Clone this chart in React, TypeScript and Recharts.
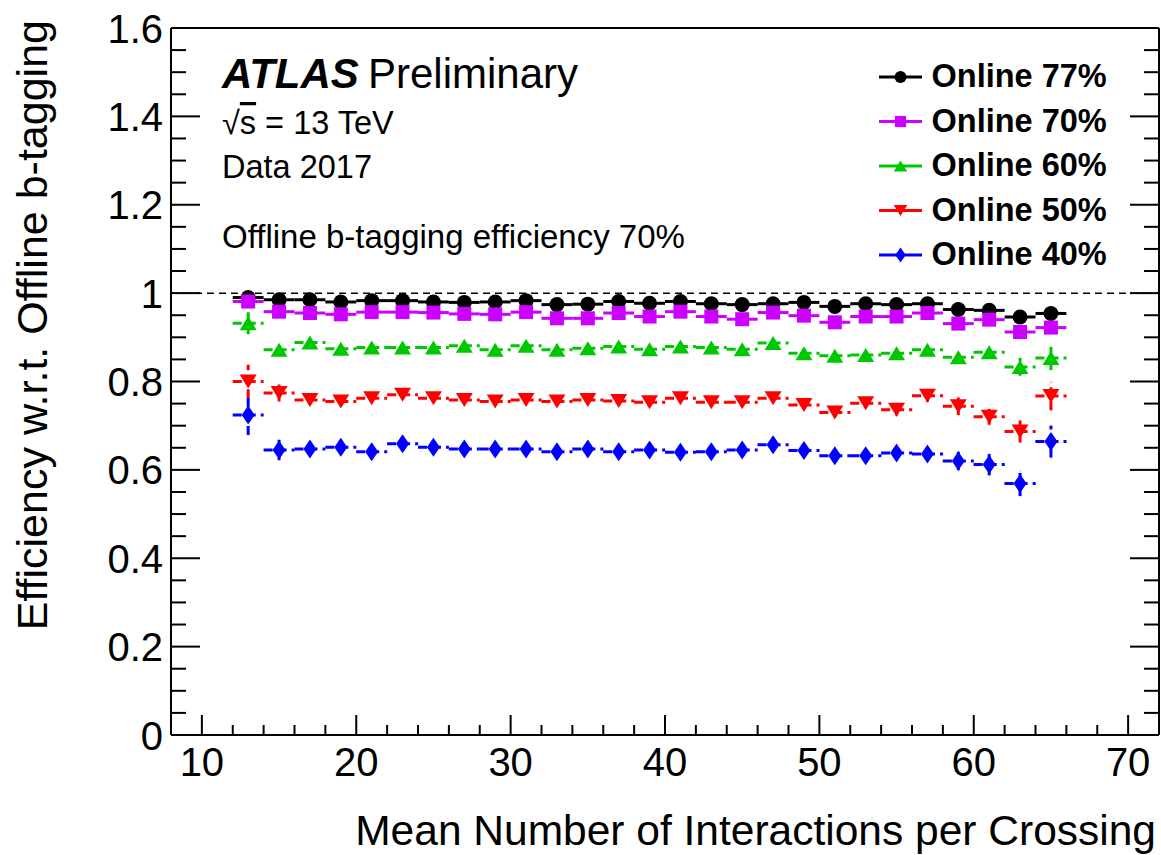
import { ScatterChart, Scatter, XAxis, YAxis, ErrorBar, ReferenceLine, Legend } from "recharts";

// mean number of interactions per crossing (bin centres, bins are 2 wide)
const mu = [13, 15, 17, 19, 21, 23, 25, 27, 29, 31, 33, 35, 37, 39, 41, 43, 45, 47, 49, 51, 53, 55, 57, 59, 61, 63, 65];
const binHalfWidth = 1;

const eff77 = [0.990, 0.985, 0.985, 0.980, 0.983, 0.983, 0.980, 0.979, 0.980, 0.983, 0.974, 0.975, 0.981, 0.977, 0.981, 0.976, 0.974, 0.976, 0.979, 0.970, 0.976, 0.974, 0.976, 0.963, 0.961, 0.946, 0.954];
const err77 = [0.008, 0.005, 0.004, 0.004, 0.004, 0.004, 0.004, 0.004, 0.004, 0.004, 0.004, 0.004, 0.004, 0.004, 0.004, 0.004, 0.004, 0.004, 0.004, 0.005, 0.005, 0.005, 0.006, 0.007, 0.008, 0.010, 0.010];

const eff70 = [0.981, 0.958, 0.955, 0.952, 0.957, 0.957, 0.956, 0.953, 0.952, 0.957, 0.943, 0.943, 0.955, 0.947, 0.958, 0.947, 0.941, 0.956, 0.949, 0.934, 0.947, 0.947, 0.955, 0.931, 0.940, 0.912, 0.922];
const err70 = [0.010, 0.006, 0.005, 0.005, 0.005, 0.005, 0.005, 0.005, 0.005, 0.005, 0.005, 0.005, 0.005, 0.005, 0.005, 0.005, 0.005, 0.005, 0.005, 0.006, 0.006, 0.006, 0.007, 0.010, 0.010, 0.014, 0.014];

const eff60 = [0.932, 0.872, 0.888, 0.874, 0.877, 0.877, 0.877, 0.881, 0.872, 0.881, 0.872, 0.875, 0.879, 0.873, 0.879, 0.877, 0.873, 0.887, 0.864, 0.858, 0.860, 0.864, 0.872, 0.855, 0.866, 0.833, 0.853];
const err60 = [0.025, 0.010, 0.008, 0.007, 0.007, 0.007, 0.007, 0.007, 0.007, 0.007, 0.007, 0.007, 0.007, 0.007, 0.007, 0.007, 0.007, 0.007, 0.008, 0.008, 0.008, 0.009, 0.010, 0.013, 0.013, 0.020, 0.027];

const eff50 = [0.800, 0.774, 0.758, 0.755, 0.762, 0.770, 0.762, 0.758, 0.755, 0.758, 0.755, 0.758, 0.756, 0.753, 0.762, 0.753, 0.753, 0.762, 0.747, 0.730, 0.751, 0.736, 0.768, 0.744, 0.720, 0.687, 0.767];
const err50 = [0.038, 0.019, 0.010, 0.009, 0.009, 0.009, 0.009, 0.009, 0.009, 0.009, 0.009, 0.009, 0.009, 0.009, 0.009, 0.009, 0.009, 0.010, 0.010, 0.011, 0.011, 0.013, 0.014, 0.020, 0.018, 0.025, 0.032];

const eff40 = [0.724, 0.645, 0.647, 0.651, 0.641, 0.659, 0.651, 0.647, 0.647, 0.647, 0.641, 0.647, 0.641, 0.645, 0.640, 0.641, 0.645, 0.657, 0.644, 0.632, 0.632, 0.638, 0.636, 0.620, 0.612, 0.569, 0.664];
const err40 = [0.045, 0.023, 0.012, 0.011, 0.011, 0.011, 0.011, 0.011, 0.011, 0.011, 0.011, 0.011, 0.011, 0.011, 0.011, 0.011, 0.011, 0.012, 0.012, 0.013, 0.013, 0.014, 0.015, 0.021, 0.024, 0.028, 0.036];

const xTicks = [8, 10, 12, 14, 16, 18, 20, 22, 24, 26, 28, 30, 32, 34, 36, 38, 40, 42, 44, 46, 48, 50, 52, 54, 56, 58, 60, 62, 64, 66, 68, 70, 72];
const xLabels = [10, 20, 30, 40, 50, 60, 70];
const yTicks = [0, 0.05, 0.1, 0.15, 0.2, 0.25, 0.3, 0.35, 0.4, 0.45, 0.5, 0.55, 0.6, 0.65, 0.7, 0.75, 0.8, 0.85, 0.9, 0.95, 1, 1.05, 1.1, 1.15, 1.2, 1.25, 1.3, 1.35, 1.4, 1.45, 1.5, 1.55, 1.6];
const yLabels = [0, 0.2, 0.4, 0.6, 0.8, 1, 1.2, 1.4, 1.6];

const series = [
  { name: "Online 77%", values: eff77, errors: err77, color: "#000000", dash: undefined, marker: "circle" },
  { name: "Online 70%", values: eff70, errors: err70, color: "#cc00ff", dash: undefined, marker: "square" },
  { name: "Online 60%", values: eff60, errors: err60, color: "#00c800", dash: "9 5", marker: "up" },
  { name: "Online 50%", values: eff50, errors: err50, color: "#ff0000", dash: "9 5", marker: "down" },
  { name: "Online 40%", values: eff40, errors: err40, color: "#0000ff", dash: "9 5", marker: "diamond" },
];

const FONT = "'Liberation Sans', Arial, Helvetica, sans-serif";

function Marker({ kind, cx, cy, color, s = 1 }: any) {
  if (cx == null || cy == null) return null;
  if (kind === "circle") return <circle cx={cx} cy={cy} r={7.5 * s} fill={color} />;
  if (kind === "square") return <rect x={cx - 7 * s} y={cy - 7 * s} width={14 * s} height={14 * s} fill={color} />;
  if (kind === "up")
    return <polygon points={`${cx},${cy - 7 * s} ${cx - 8.5 * s},${cy + 7 * s} ${cx + 8.5 * s},${cy + 7 * s}`} fill={color} />;
  if (kind === "down")
    return <polygon points={`${cx},${cy + 7 * s} ${cx - 8.5 * s},${cy - 7 * s} ${cx + 8.5 * s},${cy - 7 * s}`} fill={color} />;
  return <polygon points={`${cx},${cy - 9.5 * s} ${cx + 6.5 * s},${cy} ${cx},${cy + 9.5 * s} ${cx - 6.5 * s},${cy}`} fill={color} />;
}

const isLabel = (list: number[], v: number) => list.some((l) => Math.abs(l - v) < 1e-6);

const BottomTick = ({ x, y, payload }: any) => {
  const major = isLabel(xLabels, payload.value);
  return (
    <g>
      <line x1={x} x2={x} y1={y} y2={y - (major ? 20 : 10)} stroke="#000" strokeWidth={2} />
      {major && (
        <text x={x} y={y + 41} textAnchor="middle" fontSize={40} fontFamily={FONT} fill="#000">
          {payload.value}
        </text>
      )}
    </g>
  );
};

const TopTick = ({ x, y, payload }: any) => {
  const major = isLabel(xLabels, payload.value);
  return <line x1={x} x2={x} y1={y} y2={y + (major ? 20 : 10)} stroke="#000" strokeWidth={2} />;
};

const LeftTick = ({ x, y, payload }: any) => {
  const major = isLabel(yLabels, payload.value);
  return (
    <g>
      <line x1={x} x2={x + (major ? 29 : 15)} y1={y} y2={y} stroke="#000" strokeWidth={2} />
      {major && (
        <text x={x - 8} y={y + 14.5} textAnchor="end" fontSize={40} fontFamily={FONT} fill="#000">
          {String(Number(payload.value.toFixed(2)))}
        </text>
      )}
    </g>
  );
};

const RightTick = ({ x, y, payload }: any) => {
  const major = isLabel(yLabels, payload.value);
  return <line x1={x} x2={x - (major ? 29 : 15)} y1={y} y2={y} stroke="#000" strokeWidth={2} />;
};

const renderLegend = () => (
  <svg width={290} height={230} style={{ display: "block" }}>
    {series.map((s, i) => {
      const cy = 27 + 44.5 * i;
      return (
        <g key={s.name}>
          <line x1={19} x2={62} y1={cy} y2={cy} stroke={s.color} strokeWidth={3} />
          <Marker kind={s.marker} cx={40.5} cy={cy} color={s.color} s={0.8} />
          <text x={71.5} y={cy + 10} fontSize={32.5} fontWeight="bold" fontFamily={FONT} fill="#000">
            {s.name}
          </text>
        </g>
      );
    })}
  </svg>
);

export default function App() {
  const tables = series.map((s) =>
    mu.map((m, i) => ({ x: m, y: s.values[i], ex: binHalfWidth, ey: s.errors[i] }))
  );

  return (
    <div style={{ position: "absolute", left: 0, top: 0, width: 1161, height: 855, background: "#fff" }}>
      <ScatterChart width={1161} height={855} margin={{ top: 27, right: 1, bottom: 0, left: 0 }}>
        <XAxis
          xAxisId="b"
          dataKey="x"
          type="number"
          domain={[8, 72]}
          ticks={xTicks}
          interval={0}
          height={120}
          tickSize={0}
          tickMargin={0}
          tickLine={false}
          tick={(p: any) => <BottomTick {...p} />}
          axisLine={{ stroke: "#000", strokeWidth: 2 }}
          allowDataOverflow
        />
        <XAxis
          xAxisId="t"
          orientation="top"
          type="number"
          domain={[8, 72]}
          ticks={xTicks}
          interval={0}
          height={1}
          tickSize={0}
          tickMargin={0}
          tickLine={false}
          tick={(p: any) => <TopTick {...p} />}
          axisLine={{ stroke: "#000", strokeWidth: 2 }}
          allowDataOverflow
        />
        <YAxis
          yAxisId="l"
          dataKey="y"
          type="number"
          domain={[0, 1.6]}
          ticks={yTicks}
          interval={0}
          width={171}
          tickSize={0}
          tickMargin={0}
          tickLine={false}
          tick={(p: any) => <LeftTick {...p} />}
          axisLine={{ stroke: "#000", strokeWidth: 2 }}
          allowDataOverflow
        />
        <YAxis
          yAxisId="r"
          orientation="right"
          type="number"
          domain={[0, 1.6]}
          ticks={yTicks}
          interval={0}
          width={1}
          tickSize={0}
          tickMargin={0}
          tickLine={false}
          tick={(p: any) => <RightTick {...p} />}
          axisLine={{ stroke: "#000", strokeWidth: 2 }}
          allowDataOverflow
        />
        <ReferenceLine xAxisId="b" yAxisId="l" y={1} stroke="#000" strokeWidth={1.5} strokeDasharray="7 5" />
        {series.map((s, k) => (
          <Scatter
            key={s.name}
            name={s.name}
            xAxisId="b"
            yAxisId="l"
            data={tables[k]}
            fill={s.color}
            isAnimationActive={false}
            shape={(p: any) => <Marker kind={s.marker} cx={p.cx} cy={p.cy} color={s.color} />}
          >
            <ErrorBar dataKey="ex" direction="x" width={0} stroke={s.color} strokeWidth={3} strokeDasharray={s.dash} isAnimationActive={false} />
            <ErrorBar dataKey="ey" direction="y" width={0} stroke={s.color} strokeWidth={3} strokeDasharray={s.dash} isAnimationActive={false} />
          </Scatter>
        ))}
        <Legend
          layout="vertical"
          align="center"
          verticalAlign="middle"
          content={renderLegend}
          wrapperStyle={{ left: 860, top: 50, width: 290, height: 230 }}
        />
      </ScatterChart>

      <svg width={1161} height={855} style={{ position: "absolute", left: 0, top: 0, pointerEvents: "none" }}>
        <g fontFamily={FONT} fill="#000">
          <text x={222} y={88} fontSize={42} fontWeight="bold" fontStyle="italic">ATLAS</text>
          <text x={368} y={88} fontSize={42}>Preliminary</text>
          <text x={222} y={134} fontSize={32.5}>
            √<tspan textDecoration="overline">s</tspan> = 13 TeV
          </text>
          <text x={222} y={178} fontSize={32.5}>Data 2017</text>
          <text x={222} y={248} fontSize={33}>Offline b-tagging efficiency 70%</text>
          <text x={1156} y={845} fontSize={42.5} textAnchor="end">Mean Number of Interactions per Crossing</text>
          <text transform="translate(47,20) rotate(-90)" fontSize={43} textAnchor="end">
            Efficiency w.r.t. Offline b-tagging
          </text>
        </g>
      </svg>
    </div>
  );
}
